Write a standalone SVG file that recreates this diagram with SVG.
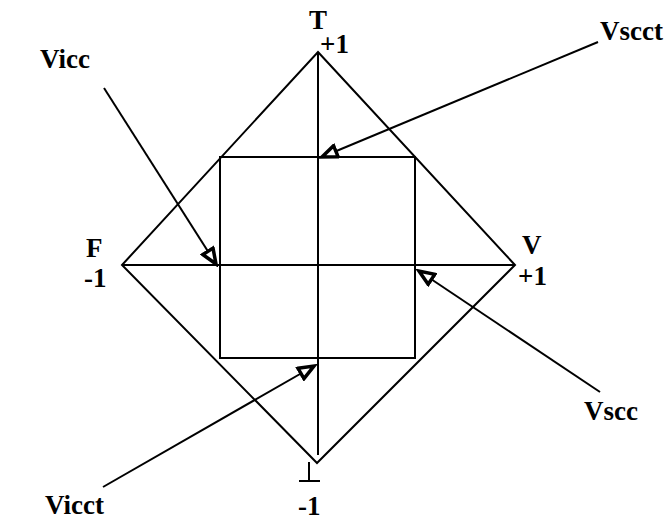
<svg xmlns="http://www.w3.org/2000/svg" width="672" height="522" viewBox="0 0 672 522">
<style>
.ln{stroke:#000;stroke-width:2;fill:none}
.ar{stroke:#000;stroke-width:2;fill:none;marker-end:url(#tri)}
.t{font-family:"Liberation Serif",Tinos,"DejaVu Serif",serif;font-weight:bold;font-size:27px;fill:#000}
</style>
<defs>
<marker id="tri" markerWidth="20" markerHeight="16" refX="17" refY="8" orient="auto" markerUnits="userSpaceOnUse">
<path d="M2,2 L17,8 L2,14 Z" fill="#fff" stroke="#000" stroke-width="3.5" stroke-linejoin="miter"/>
</marker>
</defs>
<rect width="672" height="522" fill="#fff"/>
<g id="frame">
<polygon class="ln" points="318,52 515,265 317,463 122,265"/>
<line class="ln" x1="318" y1="52" x2="318" y2="455"/>
<line class="ln" x1="122" y1="265" x2="515" y2="265"/>
<rect class="ln" x="220" y="157" width="195" height="201"/>
<line class="ln" x1="309" y1="462" x2="309" y2="481"/>
<line class="ln" x1="299" y1="481" x2="320" y2="481"/>
</g>
<g id="labels">
<text class="t" x="318" y="29" text-anchor="middle">T</text>
<text class="t" x="320" y="53">+1</text>
<text class="t" x="86" y="257">F</text>
<text class="t" x="84" y="287">-1</text>
<text class="t" x="522" y="254">V</text>
<text class="t" x="518" y="285">+1</text>
<text class="t" x="298" y="515">-1</text>
</g>
<g id="connectors">
<line class="ar" x1="104" y1="88" x2="216" y2="264"/>
<line class="ar" x1="598" y1="42" x2="322" y2="157"/>
<line class="ar" x1="600" y1="392" x2="419" y2="271"/>
<line class="ar" x1="103" y1="487" x2="314" y2="366"/>
</g>
<g id="Vicc"><text class="t" x="40" y="68">Vicc</text></g>
<g id="Vscct"><text class="t" x="600" y="40">Vscct</text></g>
<g id="Vscc"><text class="t" x="584" y="420">Vscc</text></g>
<g id="Vicct"><text class="t" x="45" y="514">Vicct</text></g>
</svg>
